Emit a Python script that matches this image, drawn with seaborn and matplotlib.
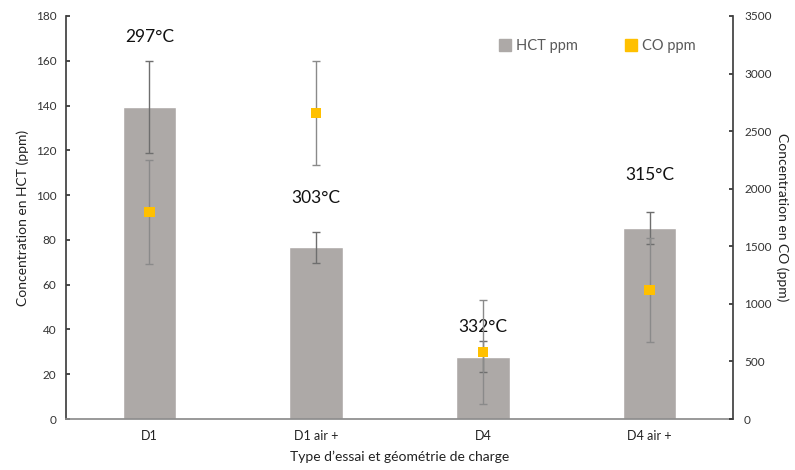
import matplotlib
matplotlib.use("Agg")
import matplotlib.pyplot as plt
import seaborn as sns
import pandas as pd
from matplotlib.lines import Line2D

categories = ["D1", "D1 air +", "D4", "D4 air +"]
hct = [139.3, 76.7, 27.9, 85.3]
hct_err = [20.5, 7, 7, 7]
co = [1800, 2660, 582, 1121]
co_err = [450, 450, 450, 450]
temps = ["297°C", "303°C", "332°C", "315°C"]
temp_y = [170.5, 98.5, 41, 109]

sns.set_theme(style="white")
plt.rcParams['font.family'] = ['Lato', 'DejaVu Sans']

df = pd.DataFrame({"cat": categories, "hct": hct, "co": co})

fig = plt.figure(figsize=(7.95, 4.70), dpi=100)
ax = fig.add_axes([0.083, 0.1085, 0.839, 0.8575])

bar_color = "#ADA9A7"
co_color = "#FFC000"

sns.barplot(data=df, x="cat", y="hct", color=bar_color, width=0.32,
            saturation=1, ax=ax, errorbar=None)
xs = list(range(len(categories)))
ax.errorbar(xs, hct, yerr=hct_err, fmt="none", ecolor="#6E6E6E",
            elinewidth=1, capsize=3, capthick=1, zorder=3)

ax.set_ylim(0, 180)
ax.set_yticks(range(0, 181, 20))
ax.set_xlim(-0.5, 3.5)
ax.set_ylabel("Concentration en HCT (ppm)", fontsize=10, color="#222222", labelpad=5)
ax.set_xlabel("Type d’essai et géométrie de charge", fontsize=10, color="#222222", labelpad=6)
ax.tick_params(axis="y", direction="in", length=3, labelsize=8.5, colors="#333333", left=True, pad=7)
ax.tick_params(axis="x", length=0, labelsize=9, colors="#222222", pad=8)
ax.spines["top"].set_visible(False)
ax.spines["left"].set_color("#404040")
ax.spines["bottom"].set_color("#8C8C8C")
ax.spines["right"].set_visible(False)

for x, t, ty in zip(xs, temps, temp_y):
    ax.text(x, ty, t, ha="center", va="center", fontsize=12.5, color="#111111", zorder=5)

ax2 = ax.twinx()
ax2.errorbar(xs, co, yerr=co_err, fmt="none", ecolor="#8A8A8A",
             elinewidth=1, capsize=3, capthick=1, zorder=3)
sns.scatterplot(x=xs, y=co, marker="s", s=55, color=co_color, edgecolor="none",
                ax=ax2, zorder=4)
ax2.set_ylim(0, 3500)
ax2.set_yticks(range(0, 3501, 500))
ax2.set_ylabel("Concentration en CO (ppm)", fontsize=10, color="#222222", rotation=270, labelpad=12)
ax2.tick_params(axis="y", direction="in", length=3, labelsize=8.5, colors="#333333", right=True, pad=8)
ax2.spines["top"].set_visible(False)
ax2.spines["left"].set_visible(False)
ax2.spines["bottom"].set_visible(False)
ax2.spines["right"].set_color("#404040")

handles = [Line2D([], [], marker="s", color=bar_color, linestyle="none", markersize=8),
           Line2D([], [], marker="s", color=co_color, linestyle="none", markersize=8)]
ax2.legend(handles, ["HCT ppm", "CO ppm"], loc="center", bbox_to_anchor=(0.79, 0.925),
           ncol=2, frameon=False, fontsize=10.5, handletextpad=-0.2, columnspacing=2.6,
           labelcolor="#595959")

fig.savefig("out.png", dpi=100)
